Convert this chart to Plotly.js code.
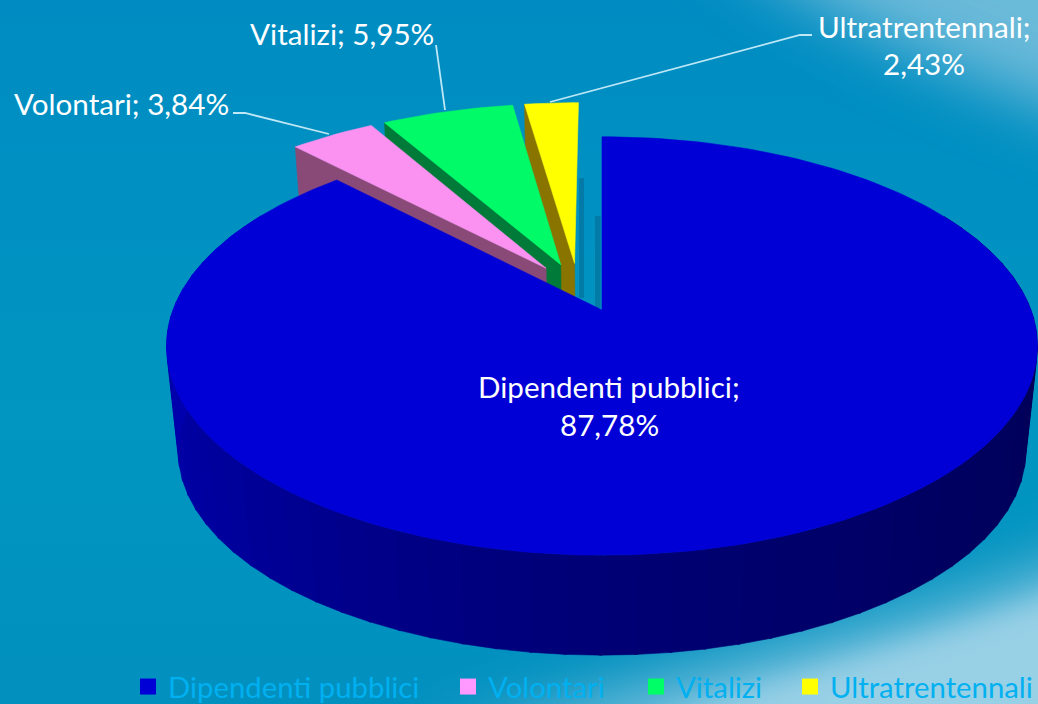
<!DOCTYPE html>
<html>
<head>
<meta charset="utf-8">
<script src="https://cdn.plot.ly/plotly-3.0.1.min.js"></script>
<style>html,body{margin:0;padding:0;background:#008cc2;overflow:hidden}#chart{width:1038px;height:704px}</style>
</head>
<body>
<div id="chart"></div>
<script>
// ---- data ----
var categories = ['Dipendenti pubblici', 'Volontari', 'Vitalizi', 'Ultratrentennali'];
var values = [87.78, 3.84, 5.95, 2.43];
var topColors = ['#0000d6', '#fb92f2', '#00fa68', '#ffff00'];
var legendColors = ['#0000d6', '#ff99ff', '#00ff66', '#ffff00'];
var wallColors = ['#000080', '#8a4a78', '#007a38', '#8a7400'];

// ---- geometry of the perspective view ----
var W = 1038, H = 704;
var cx = 602, cy = 310, Rx = 429, Ry = 203, k = 0.172, explode = 0.13;
var shiftU = -0.008, shiftV = -0.011;
var depthScale = 0.973, vanishY = 4259;
var total = values.reduce(function (a, b) { return a + b; }, 0);
var angles = [], acc = 0;
values.forEach(function (v) { var a0 = acc / total * 360; acc += v; angles.push([a0, acc / total * 360]); });
var rad = Math.PI / 180;
function mid(i) { return (angles[i][0] + angles[i][1]) / 2 * rad; }
function project(u, v, low) {
  var f = 1 / (1 + k * v), x = cx + Rx * u * f, y = cy - Ry * v * f;
  if (low) { x = cx + depthScale * (x - cx); y = vanishY + depthScale * (y - vanishY); }
  return [x, y];
}
function offset(i) {
  if (i === 0) return [0, 0];
  return [shiftU + explode * (Math.sin(mid(i)) - Math.sin(mid(0))), shiftV + explode * (Math.cos(mid(i)) - Math.cos(mid(0)))];
}
function rim(i, deg, low) { var o = offset(i); return project(o[0] + Math.sin(deg * rad), o[1] + Math.cos(deg * rad), low); }
function apex(i, low) { var o = offset(i); return project(o[0], o[1], low); }
function poly(points, color, name) {
  var pts = points.concat([points[0]]);
  return { type: 'scatter', mode: 'lines', x: pts.map(function (p) { return p[0]; }), y: pts.map(function (p) { return p[1]; }),
    fill: 'toself', fillcolor: color, line: { color: color, width: 0.6 }, showlegend: false, hoverinfo: name ? 'text' : 'skip', text: name || '', hoveron: 'fills' };
}
function pct(v) { return v.toFixed(2).replace('.', ',') + '%'; }
function topFace(i) {
  var pts = [apex(i, false)];
  for (var a = angles[i][0]; a < angles[i][1]; a += 1.5) pts.push(rim(i, a, false));
  pts.push(rim(i, angles[i][1], false));
  return poly(pts, topColors[i], categories[i] + '; ' + pct(values[i]));
}
function radialWall(i) {
  var a = angles[i][0];
  return poly([apex(i, false), rim(i, a, false), rim(i, a, true), apex(i, true)], wallColors[i]);
}
function blueShade(a) {
  var stops = [[60, 0x50], [90, 0x56], [135, 0x62], [180, 0x76], [225, 0x98], [270, 0xb0], [300, 0xb4]];
  for (var j = 0; j < stops.length - 1; j++) {
    if (a <= stops[j + 1][0]) {
      var t = Math.max(0, (a - stops[j][0]) / (stops[j + 1][0] - stops[j][0]));
      return 'rgb(0,0,' + Math.round(stops[j][1] + t * (stops[j + 1][1] - stops[j][1])) + ')';
    }
  }
  return 'rgb(0,0,180)';
}

var traces = [];
// back slices, far to near
[3, 2, 1].forEach(function (i) { traces.push(radialWall(i)); traces.push(topFace(i)); });
// front slice side wall
for (var a = 60; a < 300; a += 4) {
  traces.push(poly([rim(0, a, false), rim(0, a + 4.3, false), rim(0, a + 4.3, true), rim(0, a, true)], blueShade(a)));
}
traces.push(topFace(0));

// leader lines
var leaderX = [[233, 245, 329], [436, 445], [812, 800, 550]];
var leaderY = [[113, 113, 134], [45, 110], [35, 35, 102]];
leaderX.forEach(function (lx, j) {
  traces.push({ type: 'scatter', mode: 'lines', x: lx, y: leaderY[j], line: { color: '#bfe8f6', width: 1.8 }, showlegend: false, hoverinfo: 'skip' });
});

// legend entries
var legendNames = ['legend', 'legend2', 'legend3', 'legend4'];
var legendX = [128, 448, 636, 790];
categories.forEach(function (c, i) {
  traces.push({ type: 'scatter', mode: 'markers', x: [null], y: [null], name: c, legend: legendNames[i],
    marker: { symbol: 'square', size: 18.5, color: legendColors[i] }, showlegend: true });
});

var labelFont = { family: 'Lato, Carlito, sans-serif', size: 29.6, color: '#ffffff' };
function note(text, x, y) {
  return { text: text, x: x, y: y, xref: 'x', yref: 'y', showarrow: false, xanchor: 'center', yanchor: 'middle', font: labelFont };
}
var layout = {
  width: W, height: H, margin: { l: 0, r: 0, t: 0, b: 0, autoexpand: false }, paper_bgcolor: 'rgba(0,0,0,0)', plot_bgcolor: 'rgba(0,0,0,0)',
  xaxis: { range: [0, W], visible: false, fixedrange: true },
  yaxis: { range: [H, 0], visible: false, fixedrange: true },
  showlegend: true, hovermode: 'closest',
  annotations: [
    note(categories[0] + ';', 609, 386.5), note(pct(values[0]), 609, 424.5),
    note(categories[1] + '; ' + pct(values[1]), 121.5, 103.5),
    note(categories[2] + '; ' + pct(values[2]), 341.5, 33.5),
    note(categories[3] + ';', 924, 26.5), note(pct(values[3]), 924, 63.5)
  ],
  shapes: [
    { type: 'rect', xref: 'x', yref: 'y', x0: 579, x1: 584, y0: 178, y1: 298, fillcolor: 'rgba(10,70,110,0.3)', line: { width: 0 }, layer: 'below' },
    { type: 'rect', xref: 'x', yref: 'y', x0: 595, x1: 600.5, y0: 216, y1: 308, fillcolor: 'rgba(10,70,110,0.3)', line: { width: 0 }, layer: 'below' }
  ],
  images: [{
    source: 'data:image/svg+xml;utf8,' + encodeURIComponent(
      '<svg xmlns="http://www.w3.org/2000/svg" width="1038" height="704">' +
      '<defs><linearGradient id="b" x1="0" y1="0" x2="0" y2="1"><stop offset="0" stop-color="#008cc2"/><stop offset="0.6" stop-color="#0096c1"/><stop offset="1" stop-color="#0290bf"/></linearGradient>' +
      '<filter id="f" x="-30%" y="-30%" width="160%" height="160%"><feGaussianBlur stdDeviation="32"/></filter>' +
      '<filter id="g" x="-30%" y="-30%" width="160%" height="160%"><feGaussianBlur stdDeviation="14"/></filter></defs>' +
      '<rect width="1038" height="704" fill="url(#b)"/>' +
      '<path d="M690 -90 C800 10 900 50 1120 135 L1120 -90 Z" fill="#6bbad9" filter="url(#f)"/>' +
      '<path d="M420 760 C600 680 860 650 1120 540 L1120 760 Z" fill="#7cc3df" filter="url(#f)"/>' +
      '<path d="M640 730 C800 670 960 640 1120 570 L1120 730 Z" fill="#98d0e6" filter="url(#g)"/>' +
      '</svg>'),
    xref: 'paper', yref: 'paper', x: 0, y: 1, sizex: 1, sizey: 1, sizing: 'stretch', xanchor: 'left', yanchor: 'top', layer: 'below'
  }]
};
legendNames.forEach(function (n, i) {
  layout[n] = { x: legendX[i] / W, xanchor: 'left', y: 17 / H, yanchor: 'middle', orientation: 'h', bgcolor: 'rgba(0,0,0,0)', borderwidth: 0,
    font: { family: 'Lato, Carlito, sans-serif', size: 29.3, color: '#00b0f0' }, itemclick: false, itemdoubleclick: false };
});
Plotly.newPlot('chart', traces, layout, { displayModeBar: false, responsive: false });
</script>
</body>
</html>
